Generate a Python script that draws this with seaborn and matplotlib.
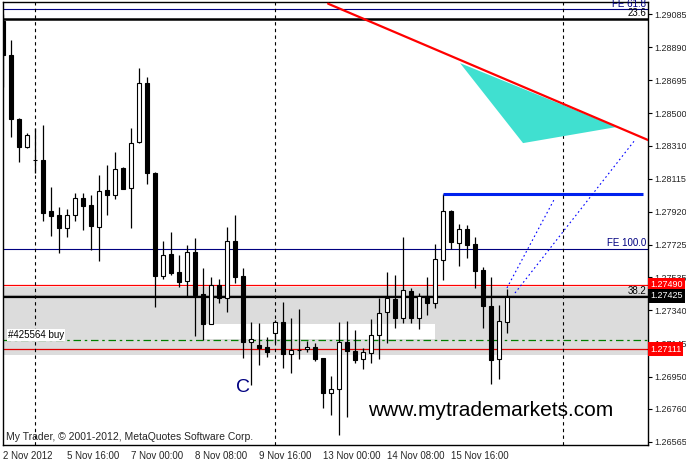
import matplotlib
matplotlib.use("Agg")
import matplotlib.pyplot as plt
import matplotlib.transforms as mtransforms
import seaborn as sns

# H4 candles, 2 Nov 2012 08:00 onwards (prices)
opens = [1.29046, 1.28844, 1.28467, 1.28304, 1.28225, 1.28225, 1.27925, 1.27901,
         1.27827, 1.27900, 1.28000, 1.27960, 1.27833, 1.28049, 1.28017, 1.28180,
         1.28059, 1.28330, 1.28677, 1.28149, 1.27542, 1.27670, 1.27564, 1.27515,
         1.27682, 1.27436, 1.27262, 1.27489, 1.27411, 1.27748, 1.27542, 1.27156,
         1.27136, 1.27123, 1.27205, 1.27270, 1.27081, 1.27107, 1.27114, 1.27126,
         1.27058, 1.26852, 1.26875, 1.27152, 1.27101, 1.27052, 1.27091, 1.27193,
         1.27330, 1.27407, 1.27293, 1.27452, 1.27293, 1.27425, 1.27382, 1.27635,
         1.27925, 1.27735, 1.27819, 1.27731, 1.27578, 1.27367, 1.27052, 1.27270]
highs = [1.29085, 1.28932, 1.28473, 1.28386, 1.28412, 1.28431, 1.28065, 1.27950,
         1.27937, 1.28033, 1.28033, 1.28019, 1.28137, 1.28196, 1.28271, 1.28186,
         1.28414, 1.28765, 1.28712, 1.28153, 1.27750, 1.27801, 1.27664, 1.27723,
         1.27766, 1.27589, 1.27535, 1.27526, 1.27829, 1.27901, 1.27588, 1.27270,
         1.27264, 1.27181, 1.27283, 1.27387, 1.27293, 1.27346, 1.27161, 1.27150,
         1.27060, 1.26954, 1.27270, 1.27279, 1.27224, 1.27118, 1.27287, 1.27411,
         1.27564, 1.27546, 1.27770, 1.27470, 1.27440, 1.27538, 1.27729, 1.28027,
         1.27931, 1.27849, 1.27843, 1.27774, 1.27597, 1.27538, 1.27372, 1.27464]
lows = [1.28657, 1.28363, 1.28215, 1.28294, 1.28151, 1.27868, 1.27778, 1.27676,
        1.27774, 1.27868, 1.27813, 1.27695, 1.27632, 1.27901, 1.27996, 1.28054,
        1.27825, 1.28328, 1.28082, 1.27362, 1.27526, 1.27548, 1.27479, 1.27425,
        1.27191, 1.27165, 1.27258, 1.27385, 1.27332, 1.27503, 1.27058, 1.26901,
        1.27018, 1.27067, 1.27148, 1.26999, 1.26973, 1.27054, 1.27093, 1.27044,
        1.26763, 1.26724, 1.26606, 1.26714, 1.27032, 1.26995, 1.27032, 1.27052,
        1.27150, 1.27238, 1.27264, 1.27264, 1.27229, 1.27313, 1.27356, 1.27519,
        1.27700, 1.27603, 1.27647, 1.27470, 1.27238, 1.26905, 1.26938, 1.27209]
closes = [1.28844, 1.28465, 1.28304, 1.28373, 1.28226, 1.27915, 1.27897, 1.27827,
          1.27900, 1.28000, 1.27956, 1.27838, 1.28041, 1.28021, 1.28171, 1.28056,
          1.28324, 1.28677, 1.28151, 1.27542, 1.27664, 1.27562, 1.27507, 1.27682,
          1.27432, 1.27260, 1.27488, 1.27411, 1.27748, 1.27538, 1.27156, 1.27170,
          1.27120, 1.27093, 1.27270, 1.27081, 1.27107, 1.27104, 1.27126, 1.27054,
          1.26855, 1.26875, 1.27152, 1.27103, 1.27048, 1.27095, 1.27193, 1.27323,
          1.27411, 1.27293, 1.27460, 1.27297, 1.27425, 1.27385, 1.27641, 1.27925,
          1.27741, 1.27819, 1.27727, 1.27574, 1.27367, 1.27048, 1.27277, 1.27420]

time_ticks = [0, 8, 16, 24, 32, 40, 48, 56]
time_labels = ["2 Nov 2012", "5 Nov 16:00", "7 Nov 00:00", "8 Nov 08:00",
               "9 Nov 16:00", "13 Nov 00:00", "14 Nov 08:00", "15 Nov 16:00"]
week_lines = [4, 34, 70]
price_labels = ["1.29085", "1.28890", "1.28695", "1.28500", "1.28310", "1.28115",
                "1.27920", "1.27725", "1.27535", "1.27340", "1.27145", "1.26950",
                "1.26760", "1.26565"]

# objects drawn on the chart
fe618 = 1.29113
fib236 = 1.29056
fe100 = 1.27701
level_hi = 1.27490
fib382 = 1.27418
level_lo = 1.27111
buy_price = 1.27165
zone_top, zone_bottom = 1.27480, 1.27077
gap_x = [24.96, 53.96]
gap_y = [1.27171, 1.27260]
trend_x = [40.6, 81.0]
trend_y = [1.29146, 1.28335]
tri_x = [57.1, 64.97, 76.7]
tri_y = [1.28796, 1.28325, 1.28420]
target_x = [55, 80]
target_y = 1.28025
proj1_x = [62.96, 68.96]
proj1_y = [1.27472, 1.28002]
proj2_x = [63.96, 78.96]
proj2_y = [1.27442, 1.28343]
tags = [("1.27490", level_hi, 'red'), ("1.27425", fib382 + 0.00007, 'black'),
        ("1.27111", level_lo, 'red')]

sns.set_style("white")
plt.rcParams['font.family'] = ['Liberation Sans', 'DejaVu Sans']

fig = plt.figure(figsize=(6.86, 4.62), dpi=100)
ax = fig.add_axes([3 / 686, 1 - 445 / 462, 645 / 686, 443 / 462])
ax.set_xlim(-0.04, 80.59)
ax.set_ylim(1.26547, 1.29156)

# zone and order levels
ax.axhspan(zone_bottom, zone_top, color='#dcdcdc', lw=0, zorder=0)
ax.fill_between(gap_x, gap_y[0], gap_y[1], color='white', lw=0, zorder=0.5)
ax.axhline(fib382 + 0.00014, color='#b0b0b0', lw=0.8, zorder=1)
ax.axhline(fib382, color='black', lw=1.6, zorder=1)
ax.axhline(level_hi, color='red', lw=0.9, zorder=1)
ax.axhline(level_lo, color='#e00000', lw=0.9, zorder=1)
ax.axhline(buy_price, color='#008000', lw=0.9, dashes=(6, 3, 2, 3), zorder=1)
ax.axhline(fe618, color='#000080', lw=0.8, zorder=1)
ax.axhline(fib236, color='black', lw=1.8, zorder=1)
ax.axhline(fe100, color='#000080', lw=0.8, zorder=1)
for w in week_lines:
    ax.axvline(w, color='black', lw=0.8, dashes=(3, 3), zorder=1)

# candles
for i in range(len(opens)):
    o, h, l, c = opens[i], highs[i], lows[i], closes[i]
    ax.vlines(i, l, h, color='black', lw=0.9, zorder=2)
    face = 'white' if c > o else 'black'
    ax.bar(i, abs(c - o), bottom=min(o, c), width=0.5, color=face,
           edgecolor='black', lw=0.8, zorder=3)

# drawings
ax.fill(tri_x, tri_y, color='#40e0d0', lw=0, zorder=2)
sns.lineplot(x=trend_x, y=trend_y, ax=ax, color='red', lw=1.6, zorder=4)
ax.hlines(target_y, target_x[0], target_x[1], color='#0022ee', lw=2.2, zorder=4)
sns.lineplot(x=proj1_x, y=proj1_y, ax=ax, color='blue', lw=0.8, dashes=(1.5, 2.5), zorder=4)
sns.lineplot(x=proj2_x, y=proj2_y, ax=ax, color='blue', lw=0.8, dashes=(1.5, 2.5), zorder=4)

# level texts
rx = mtransforms.blended_transform_factory(ax.transAxes, ax.transData)
ax.text(0.997, fe618 + 0.00004, "FE 61.8", color='#000080', fontsize=7, ha='right', va='bottom', transform=rx)
ax.text(0.997, fib236 + 0.00006, "23.6", color='black', fontsize=7, ha='right', va='bottom', transform=rx)
ax.text(0.997, fe100 + 0.00006, "FE 100.0", color='#000080', fontsize=7, ha='right', va='bottom', transform=rx)
ax.text(0.997, fib382 + 0.00006, "38.2", color='black', fontsize=7, ha='right', va='bottom', transform=rx)
ax.text(0.6, buy_price + 0.00003, "#425564 buy", color='black', fontsize=7, ha='left', va='bottom',
        bbox=dict(boxstyle='square,pad=0.1', fc='white', ec='none'), zorder=5)
ax.text(29.1, 1.26883, "C", color='#000080', fontsize=14, ha='left', va='center')
ax.text(45.6, 1.26753, "www.mytrademarkets.com", color='black', fontsize=15, ha='left', va='center')
ax.text(0.004, 0.018, "My Trader, \u00a9 2001-2012, MetaQuotes Software Corp.", fontsize=7.5,
        transform=ax.transAxes, ha='left', va='center')

# axes styling
for s in ax.spines.values():
    s.set_color('black')
    s.set_linewidth(1)
ax.yaxis.tick_right()
ax.set_yticks([float(p) for p in price_labels])
ax.set_yticklabels(price_labels)
ax.set_xticks(time_ticks)
ax.set_xticklabels(time_labels, ha='left')
ax.tick_params(axis='both', direction='out', length=3, width=0.8, color='black', labelsize=7, pad=2)
ax.tick_params(axis='x', pad=1)
ax.tick_params(axis='y', right=True, left=False, labelsize=6.5, pad=1.5)
ax.set_xlabel('')
ax.set_ylabel('')
if ax.get_legend():
    ax.get_legend().remove()

# price tags on the scale
for label, price, bg in tags:
    ax.text(1.003, price, label, color='white', fontsize=6.5,
            ha='left', va='center', transform=rx, clip_on=False, zorder=10,
            bbox=dict(boxstyle='square,pad=0.25', fc=bg, ec='none'))

fig.savefig("out.png", dpi=100)
